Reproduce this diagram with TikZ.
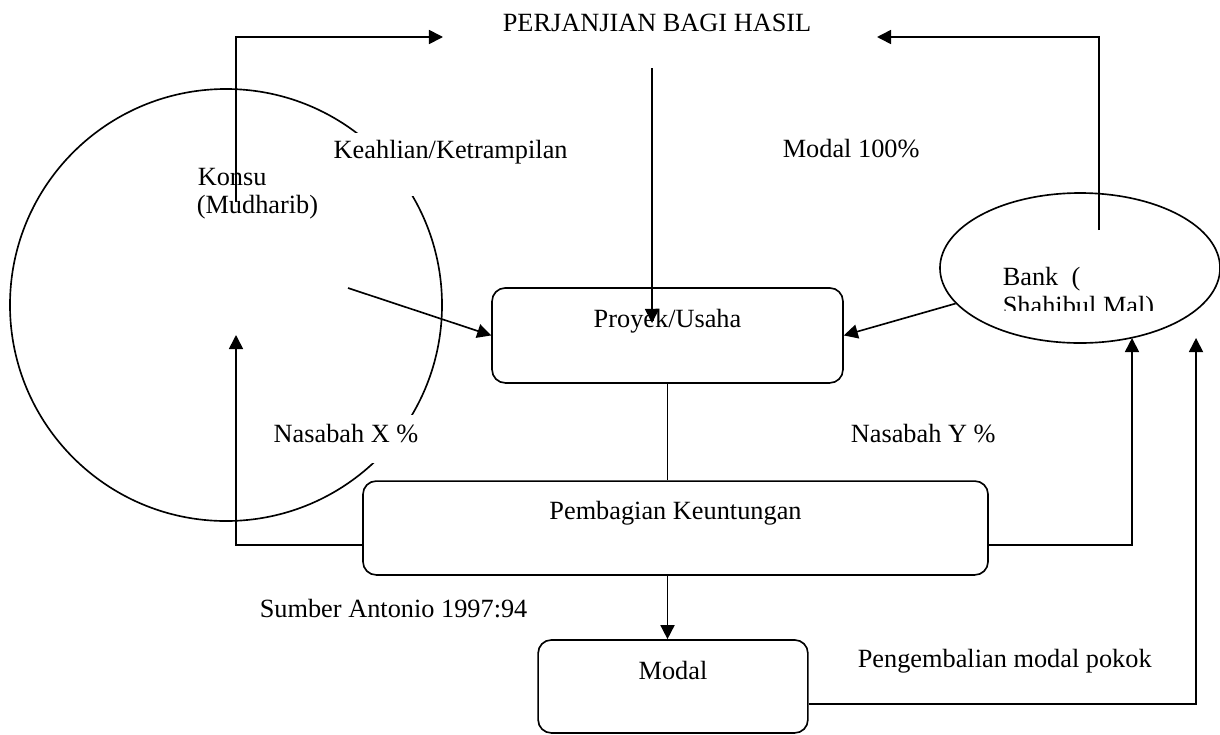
\documentclass[12pt,tikz,border=0pt]{standalone}
\usepackage{fontspec}
\setmainfont{Liberation Serif}
\usetikzlibrary{arrows.meta,shapes.geometric,calc}

\begin{document}
\begin{tikzpicture}[x=0.456pt,y=-0.456pt,line width=0.75pt,
    panah/.style={-{Triangle[length=6.4pt,width=6.4pt]}},
    kotak/.style={draw,rounded corners=6pt,inner sep=0pt,anchor=base},
    teks/.style={inner sep=0pt,anchor=base west}]

  \useasboundingbox (0,0) rectangle (1220,734);

  \node[draw,circle,minimum size=197pt,inner sep=0pt] (nasabah) at (226,305) {};
  \node[draw,ellipse,minimum width=127.7pt,minimum height=68.4pt,inner sep=0pt] (bank) at (1080,268) {};

  \begin{scope}[every node/.style={kotak}]
    \node[minimum width=160pt,text height=17.8pt,text depth=25.5pt] (proyek) at (667.5,327) {Proyek/Usaha};
    \node[minimum width=285pt,text height=17.3pt,text depth=25.5pt] (pembagian) at (675.5,519) {Pembagian Keuntungan};
    \node[minimum width=123pt,text height=17.8pt,text depth=24.6pt] (modal) at (673,679) {Modal};
  \end{scope}

  \begin{scope}[every node/.style={teks}]
    \node (judul) at (502,31) {PERJANJIAN BAGI HASIL};
    \node[fill=white,inner xsep=3.6pt,text height=11.4pt,text depth=17.3pt] (keahlian) at (325,158) {Keahlian/Ketrampilan};
    \node (modalpenuh) at (782,157) {Modal 100\%};
    \node (konsu) at (197,185) {Konsu};
    \node (mudharib) at (196,213) {(Mudharib)};
    \node[fill=white,inner xsep=3.6pt,text height=12.3pt,text depth=9.6pt] (nasabahx) at (265,442) {Nasabah X \%};
    \node (nasabahy) at (850,442) {Nasabah Y \%};
    \node (sumber) at (259,617) {Sumber Antonio 1997:94};
    \node (pengembalian) at (857,667) {Pengembalian modal pokok};
    \node (bank1) at (1002,285) {Bank\ \ (};
    \begin{scope}
      \clip (990,290) rectangle (1215,310);
      \node (bank2) at (1002,314) {Shahibul Mal)};
    \end{scope}
  \end{scope}

  % ujung panah
  \coordinate (judulkiri) at (443,37);
  \coordinate (judulkanan) at (877,37);
  \coordinate (judulbawah) at (652,68);
  \coordinate (proyekdalam) at (652,323);
  \coordinate (konsuatas) at (236,202);
  \coordinate (konsubawah) at (236,335);
  \coordinate (keahlianujung) at (348,288);
  \coordinate (bankatas) at (1099,230);
  \coordinate (bankkiri) at (1132,338);
  \coordinate (bankkanan) at (1196,338);

  \draw[panah] (konsuatas) |- (judulkiri);
  \draw[panah] (bankatas) |- (judulkanan);
  \draw[panah] (judulbawah) -- (proyekdalam);
  \draw[panah] (keahlianujung) -- (proyek.west);
  \draw[panah] (bank) -- (proyek.east);
  \draw (proyek.south) -- (proyek.south |- pembagian.north);
  \draw[panah] (proyek.south |- pembagian.south) -- (proyek.south |- modal.north);
  \draw[panah] ($(pembagian.west)+(0,17)$) -| (konsubawah);
  \draw[panah] ($(pembagian.east)+(0,17)$) -| (bankkiri);
  \draw[panah] ($(modal.east)+(0,17.5)$) -| (bankkanan);

\end{tikzpicture}
\end{document}
